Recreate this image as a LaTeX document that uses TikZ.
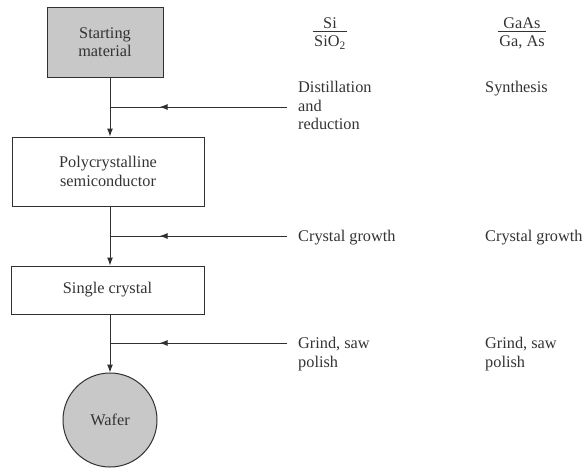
\documentclass[tikz,border=0pt]{standalone}
\usepackage{fontspec}
\setmainfont{Liberation Serif}
\usetikzlibrary{arrows.meta,decorations.markings}
\definecolor{linecol}{HTML}{303030}
\definecolor{graycol}{HTML}{C8C8C8}
\definecolor{txtcol}{HTML}{333333}
\newcommand\diagfont{\fontsize{16.3}{18.5}\selectfont}
\newcommand\stackfrac[2]{\setlength{\arrayrulewidth}{0.8pt}\begin{tabular}{@{\hspace{1.5pt}}c@{\hspace{1.5pt}}}#1\\[-3pt]\hline\rule{0pt}{15pt}#2\end{tabular}}
\begin{document}
\begin{tikzpicture}[x=1pt,y=-1pt,
  line/.style={draw=linecol, line width=1pt},
  flow/.style={line, -{Latex[length=8pt,width=6pt]}},
  feed/.style={line, postaction={decorate},
    decoration={markings, mark=at position 0.72 with {\arrow{Latex[length=8pt,width=6pt]}}}},
  box/.style={draw=linecol, line width=1pt, rectangle, align=center,
    font=\diagfont, text=txtcol, inner sep=0pt},
  lbl/.style={anchor=north west, align=left, font=\diagfont, text=txtcol, inner sep=0pt},
  frac/.style={font=\diagfont, text=txtcol, inner sep=0pt}
]
\useasboundingbox (0,0) rectangle (584,467);
% process boxes
\node[box, fill=graycol, minimum width=116pt, minimum height=70pt] (start) at (105,42) {Starting\\material};
\node[box, minimum width=192pt, minimum height=69pt] (poly) at (108,171.5) {Polycrystalline\\semiconductor};
\node[box, minimum width=193pt, minimum height=48pt] (single) at (107.5,290) {Single crystal};
\node[box, circle, fill=graycol, minimum size=94pt] (wafer) at (110,420) {Wafer};
% junctions and feed ends
\coordinate (j1) at (110,107);
\coordinate (j2) at (110,236);
\coordinate (j3) at (110,343);
\coordinate (e1) at (287,107);
\coordinate (e2) at (287,236);
\coordinate (e3) at (287,343);
% main flow
\draw[line] (start.south -| j1) -- (j1);
\draw[flow] (j1) -- (poly.north -| j1);
\draw[line] (poly.south -| j2) -- (j2);
\draw[flow] (j2) -- (single.north -| j2);
\draw[line] (single.south -| j3) -- (j3);
\draw[flow] (j3) -- (wafer.north);
% feeds
\draw[feed] (e1) -- (j1);
\draw[feed] (e2) -- (j2);
\draw[feed] (e3) -- (j3);
% column headings
\node[frac] (hsi) at (330,34) {\stackfrac{Si}{SiO\textsubscript{2}}};
\node[frac] (hgaas) at (522,34) {\stackfrac{GaAs}{Ga, As}};
% step labels, Si column
\node[lbl] (l1) at (298,81) {Distillation\\and\\reduction};
\node[lbl] (l2) at (298,230) {Crystal growth};
\node[lbl] (l3) at (298,337) {Grind, saw\\polish};
% step labels, GaAs column
\node[lbl] (r1) at (485,81) {Synthesis};
\node[lbl] (r2) at (485,230) {Crystal growth};
\node[lbl] (r3) at (485,337) {Grind, saw\\polish};
\end{tikzpicture}
\end{document}
